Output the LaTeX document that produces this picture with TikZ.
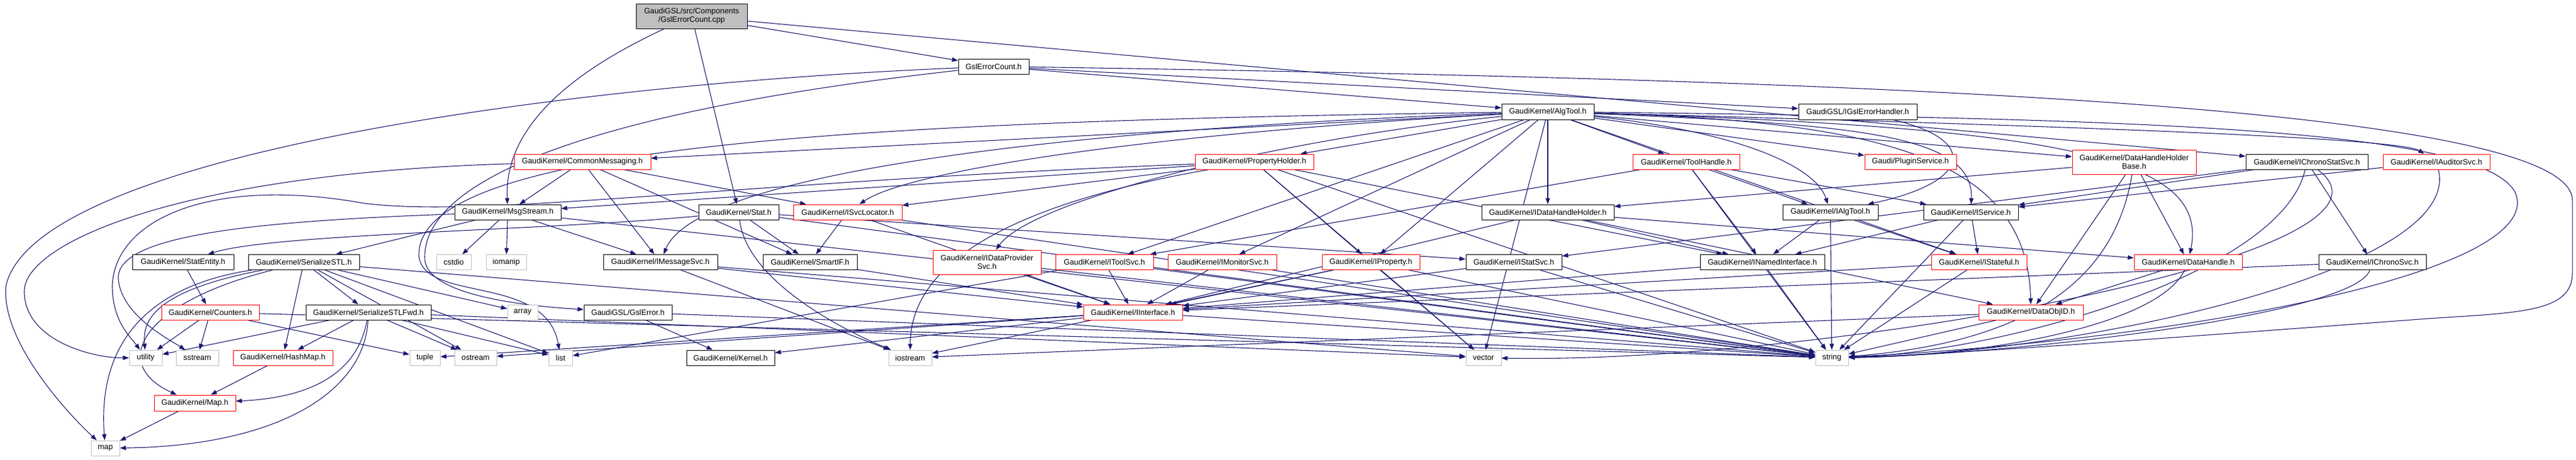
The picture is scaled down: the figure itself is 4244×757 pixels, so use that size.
\documentclass[tikz,border=0pt]{standalone}
\usepackage{fontspec}
\setmainfont{Liberation Sans}
\usetikzlibrary{arrows.meta}
\definecolor{edgec}{HTML}{191970}
\definecolor{sysgray}{HTML}{BFBFBF}
\definecolor{redb}{HTML}{FF0000}
\pgfdeclarelayer{bg}
\pgfsetlayers{bg,main}
\newcommand{\gnode}[7]{\node[#6, minimum width=#4*0.5pt, minimum height=#5*0.5pt] (#1) at (#2,#3) {#7};}
\begin{document}
\begin{tikzpicture}[x=0.5pt,y=-0.5pt,
  nbase/.style={draw, fill=white, inner sep=0pt, line width=0.5pt, align=center, font=\fontsize{6.4}{7}\selectfont},
  nblk/.style={nbase, draw=black},
  nred/.style={nbase, draw=redb},
  nsys/.style={nbase, draw=sysgray},
  nsrc/.style={nbase, draw=black, fill=sysgray},
  edg/.style={draw=edgec, line width=0.55pt, -{Triangle[length=5pt,width=3.6pt]}}]
\path[use as bounding box] (0,0) rectangle (4244,757);
% nodes
\gnode{src}{1139.5}{26.5}{183}{41}{nsrc}{GaudiGSL/src/Components\\/GslErrorCount.cpp}
\gnode{gec}{1637}{109.5}{116}{25}{nblk}{GslErrorCount.h}
\gnode{algtool}{2550}{184}{152}{26}{nblk}{GaudiKernel/AlgTool.h}
\gnode{igsl}{3060.5}{184}{195}{26}{nblk}{GaudiGSL/IGslErrorHandler.h}
\gnode{commsg}{959.5}{266.5}{225}{25}{nred}{GaudiKernel/CommonMessaging.h}
\gnode{propholder}{2066.5}{266.5}{195}{25}{nred}{GaudiKernel/PropertyHolder.h}
\gnode{toolhandle}{2778}{266.5}{176}{25}{nred}{GaudiKernel/ToolHandle.h}
\gnode{plugin}{3147.5}{266.5}{151}{25}{nred}{Gaudi/PluginService.h}
\gnode{dhhb}{3516}{267}{204}{40}{nred}{GaudiKernel/DataHandleHolder\\Base.h}
\gnode{ichronostat}{3800.5}{266.5}{201}{25}{nblk}{GaudiKernel/IChronoStatSvc.h}
\gnode{iauditor}{4014}{266.5}{176}{25}{nred}{GaudiKernel/IAuditorSvc.h}
\gnode{msgstream}{836.5}{349.5}{175}{25}{nblk}{GaudiKernel/MsgStream.h}
\gnode{stat}{1217}{349.5}{132}{25}{nblk}{GaudiKernel/Stat.h}
\gnode{isvcloc}{1396.5}{349.5}{179}{25}{nred}{GaudiKernel/ISvcLocator.h}
\gnode{idhh}{2550}{349.5}{218}{25}{nblk}{GaudiKernel/IDataHandleHolder.h}
\gnode{ialgtool}{3015.5}{349.5}{157}{25}{nblk}{GaudiKernel/IAlgTool.h}
\gnode{iservice}{3247}{349.5}{156}{25}{nblk}{GaudiKernel/IService.h}
\gnode{statentity}{301.5}{432}{167}{25}{nblk}{GaudiKernel/StatEntity.h}
\gnode{serstl}{500.5}{432}{183}{25}{nblk}{GaudiKernel/SerializeSTL.h}
\gnode{cstdio}{747.5}{432}{57}{25}{nsys}{cstdio}
\gnode{iomanip}{834}{432}{66}{25}{nsys}{iomanip}
\gnode{imsgsvc}{1088}{432}{188}{25}{nblk}{GaudiKernel/IMessageSvc.h}
\gnode{smartif}{1334.5}{432}{155}{25}{nblk}{GaudiKernel/SmartIF.h}
\gnode{idps}{1626}{432}{178}{40}{nred}{GaudiKernel/IDataProvider\\Svc.h}
\gnode{itoolsvc}{1819.5}{432}{161}{25}{nred}{GaudiKernel/IToolSvc.h}
\gnode{imonitor}{2013.5}{432}{179}{25}{nred}{GaudiKernel/IMonitorSvc.h}
\gnode{iproperty}{2258.5}{432}{161}{25}{nred}{GaudiKernel/IProperty.h}
\gnode{istatsvc}{2494}{432}{158}{25}{nblk}{GaudiKernel/IStatSvc.h}
\gnode{inamed}{2903.5}{432}{205}{25}{nblk}{GaudiKernel/INamedInterface.h}
\gnode{istateful}{3260.5}{432}{157}{25}{nred}{GaudiKernel/IStateful.h}
\gnode{datahandle}{3605}{432}{178}{25}{nred}{GaudiKernel/DataHandle.h}
\gnode{ichrono}{3908.5}{432}{177}{25}{nblk}{GaudiKernel/IChronoSvc.h}
\gnode{counters}{346.5}{514.5}{161}{25}{nred}{GaudiKernel/Counters.h}
\gnode{serstlfwd}{607}{514.5}{206}{25}{nblk}{GaudiKernel/SerializeSTLFwd.h}
\gnode{array}{861}{514.5}{50}{25}{nsys}{array}
\gnode{gslerror}{1034.5}{514.5}{145}{25}{nblk}{GaudiGSL/GslError.h}
\gnode{iinterface}{1866.5}{514.5}{163}{25}{nred}{GaudiKernel/IInterface.h}
\gnode{dataobjid}{3346}{514.5}{172}{25}{nred}{GaudiKernel/DataObjID.h}
\gnode{utility}{240}{589.5}{54}{25}{nsys}{utility}
\gnode{sstream}{325}{589.5}{70}{25}{nsys}{sstream}
\gnode{hashmap}{466}{589.5}{164}{25}{nred}{GaudiKernel/HashMap.h}
\gnode{tuple}{700}{589.5}{50}{25}{nsys}{tuple}
\gnode{ostream}{783.5}{589.5}{69}{25}{nsys}{ostream}
\gnode{list}{923.5}{589.5}{39}{25}{nsys}{list}
\gnode{kernel}{1203.5}{589.5}{145}{25}{nblk}{GaudiKernel/Kernel.h}
\gnode{iostream}{1499.5}{589.5}{71}{25}{nsys}{iostream}
\gnode{vector}{2444}{589.5}{58}{25}{nsys}{vector}
\gnode{string}{3018}{589.5}{54}{25}{nsys}{string}
\gnode{maph}{321}{664}{134}{26}{nred}{GaudiKernel/Map.h}
\gnode{map}{173.5}{738.5}{47}{25}{nsys}{map}
% edges
\begin{pgfonlayer}{bg}
\foreach \a/\b in {src/gec, src/stat, src/ichronostat,
  gec/algtool, gec/igsl,
  algtool/commsg, algtool/propholder, algtool/toolhandle, algtool/plugin, algtool/dhhb, algtool/idhh,
  algtool/itoolsvc, algtool/imonitor, algtool/iproperty, algtool/vector, algtool/istateful,
  commsg/msgstream, commsg/isvcloc, commsg/imsgsvc, commsg/smartif,
  propholder/msgstream, propholder/isvcloc, propholder/iproperty, propholder/inamed, propholder/string, propholder/vector,
  toolhandle/itoolsvc, toolhandle/inamed, toolhandle/ialgtool, toolhandle/string, toolhandle/iservice,
  dhhb/idhh, dhhb/datahandle, dhhb/dataobjid,
  ichronostat/iservice, ichronostat/istatsvc, ichronostat/ichrono,
  iauditor/iservice,
  msgstream/serstl, msgstream/cstdio, msgstream/iomanip, msgstream/imsgsvc, msgstream/string,
  stat/smartif, stat/istatsvc, stat/string,
  isvcloc/smartif, isvcloc/iinterface, isvcloc/string,
  idhh/iinterface, idhh/inamed, idhh/datahandle, idhh/dataobjid,
  ialgtool/inamed, ialgtool/istateful, ialgtool/string,
  iservice/istateful, iservice/inamed, iservice/string,
  statentity/counters,
  serstl/hashmap, serstl/serstlfwd, serstl/array, serstl/ostream, serstl/list, serstl/vector,
  imsgsvc/iinterface, imsgsvc/iostream, imsgsvc/string,
  smartif/iinterface,
  idps/iinterface, idps/string,
  itoolsvc/iinterface, itoolsvc/list, itoolsvc/string,
  imonitor/iinterface, imonitor/string,
  iproperty/iinterface, iproperty/vector, iproperty/string, iproperty/iostream,
  istatsvc/iinterface, istatsvc/string,
  inamed/iinterface, inamed/string,
  istateful/iinterface, istateful/string,
  datahandle/dataobjid,
  ichrono/iinterface,
  counters/utility, counters/sstream, counters/tuple, counters/string,
  serstlfwd/utility, serstlfwd/hashmap, serstlfwd/ostream, serstlfwd/list, serstlfwd/vector,
  gslerror/kernel, gslerror/string,
  iinterface/kernel, iinterface/ostream, iinterface/tuple, iinterface/string,
  dataobjid/string, dataobjid/iostream,
  hashmap/maph, maph/map}
  \draw[edg] (\a) -- (\b);
\draw[edg] (src) .. controls (960,110) and (830,200) .. (msgstream);
\draw[edg] (gec) .. controls (900,140) and (60,260) .. (10,470) .. controls (0,560) and (110,680) .. (map);
\draw[edg] (gec) .. controls (1000,180) and (690,290) .. (700,430) .. controls (710,490) and (880,505) .. (gslerror);
\draw[edg] (gec) .. controls (3000,130) and (4238,170) .. (4238,330) -- (4238,450) .. controls (4238,515) and (4150,515) .. (4000,525) .. controls (3600,555) and (3200,585) .. (string);
\draw[edg] (igsl) .. controls (3260,230) and (3250,300) .. (ialgtool);
\draw[edg] (algtool) .. controls (1400,200) and (690,240) .. (690,420) .. controls (695,500) and (900,450) .. (list);
\draw[edg] (algtool) .. controls (3050,205) and (3252,220) .. (iservice);
\draw[edg] (algtool) .. controls (2850,215) and (2990,270) .. (ialgtool);
\draw[edg] (algtool) .. controls (3500,195) and (4100,210) .. (4145,320) .. controls (4190,450) and (3600,560) .. (string);
\draw[edg] (algtool) .. controls (3300,205) and (3950,225) .. (iauditor);
\draw[edg] (algtool) .. controls (3100,200) and (3340,260) .. (dataobjid);
\draw[edg] (algtool) .. controls (3400,210) and (3640,260) .. (datahandle);
\draw[edg] (algtool) .. controls (1800,210) and (1150,280) .. (imsgsvc);
\draw[edg] (algtool) .. controls (1900,220) and (1500,280) .. (isvcloc);
\draw[edg] (algtool) .. controls (2100,230) and (1700,330) .. (idps);
\draw[edg] (commsg) .. controls (300,285) and (40,400) .. (40,480) .. controls (40,560) and (150,590) .. (utility);
\draw[edg] (propholder) .. controls (1200,300) and (800,360) .. (600,335) .. controls (350,290) and (190,360) .. (185,470) .. controls (185,530) and (215,555) .. (utility);
\draw[edg] (msgstream) .. controls (400,365) and (190,390) .. (195,460) .. controls (200,520) and (280,560) .. (sstream);
\draw[edg] (stat) .. controls (900,380) and (450,385) .. (statentity);
\draw[edg] (stat) .. controls (1230,460) and (1380,540) .. (iostream);
\draw[edg] (propholder) .. controls (1700,330) and (1500,420) .. (iostream);
\draw[edg] (serstl) .. controls (250,470) and (160,560) .. (map);
\draw[edg] (serstl) .. controls (250,480) and (235,530) .. (utility);
\draw[edg] (serstl) .. controls (230,500) and (180,600) .. (maph);
\draw[edg] (serstlfwd) .. controls (600,650) and (450,735) .. (map);
\draw[edg] (serstlfwd) .. controls (590,610) and (520,655) .. (maph);
\draw[edg] (ichronostat) .. controls (3760,450) and (3300,580) .. (string);
\draw[edg] (ichronostat) .. controls (4010,420) and (3000,600) .. (vector);
\draw[edg] (iauditor) .. controls (4060,450) and (3400,585) .. (string);
\draw[edg] (ichrono) .. controls (3880,520) and (3300,585) .. (string);
\draw[edg] (datahandle) .. controls (3560,530) and (3300,585) .. (string);
\draw[edg] (dhhb) .. controls (3490,420) and (3400,560) .. (string);
\end{pgfonlayer}
\end{tikzpicture}
\end{document}
